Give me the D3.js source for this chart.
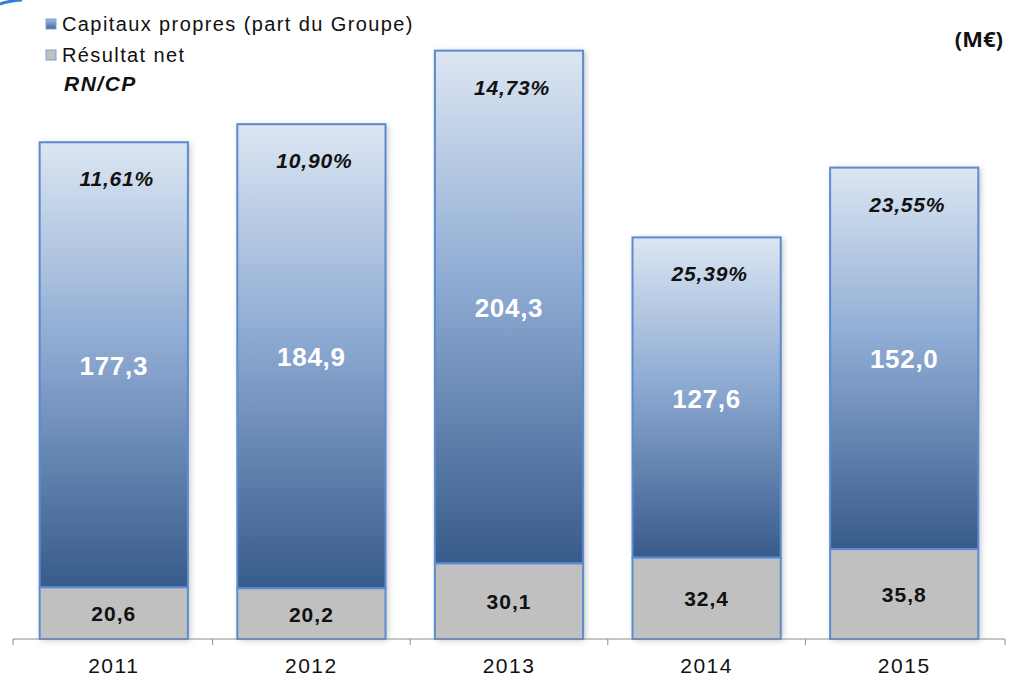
<!DOCTYPE html>
<html>
<head>
<meta charset="utf-8">
<style>
  body { margin: 0; background: #fff; font-family: "Liberation Sans", Arial, sans-serif; }
</style>
<script src="https://cdn.jsdelivr.net/npm/d3@7"></script>
</head>
<body>
<script>
// data
var years = ["2011", "2012", "2013", "2014", "2015"];
var capitaux = [177.3, 184.9, 204.3, 127.6, 152.0];
var resultat = [20.6, 20.2, 30.1, 32.4, 35.8];
var ratios = ["11,61%", "10,90%", "14,73%", "25,39%", "23,55%"];
var legendLabels = ["Capitaux propres (part du Groupe)", "Résultat net"];

var W = 1009, H = 676;
var fmt = function(v) { return v.toFixed(1).replace(".", ","); };

var svg = d3.select("body").append("svg")
    .attr("width", W)
    .attr("height", H);

var defs = svg.append("defs");
var grad = defs.append("linearGradient")
    .attr("id", "blueGrad")
    .attr("x1", 0).attr("y1", 0).attr("x2", 0).attr("y2", 1);
grad.append("stop").attr("offset", "0%").attr("stop-color", "#dce6f2");
grad.append("stop").attr("offset", "45%").attr("stop-color", "#8eabd3");
grad.append("stop").attr("offset", "100%").attr("stop-color", "#375b8c");

var shadow = defs.append("filter").attr("id", "shadow")
    .attr("x", "-10%").attr("y", "-10%").attr("width", "120%").attr("height", "120%");
shadow.append("feDropShadow")
    .attr("dx", 2).attr("dy", 1).attr("stdDeviation", 3)
    .attr("flood-color", "#000").attr("flood-opacity", 0.25);

var legGrad = defs.append("linearGradient")
    .attr("id", "legGrad")
    .attr("x1", 0).attr("y1", 0).attr("x2", 0).attr("y2", 1);
legGrad.append("stop").attr("offset", "0%").attr("stop-color", "#a9c0e0");
legGrad.append("stop").attr("offset", "100%").attr("stop-color", "#3d64a0");

// scales
var x = d3.scaleBand()
    .domain(years)
    .range([13, 1005])
    .paddingInner(0.25)
    .paddingOuter(0.135);

var y = d3.scaleLinear()
    .domain([0, 250])
    .range([639, 639 - 250 * 2.51]);

var rows = years.map(function(yr, i) {
  return { year: yr, cp: capitaux[i], rn: resultat[i], ratio: ratios[i] };
});

// corner swoosh
svg.append("path")
    .attr("d", "M0,4 Q8,1 22,0")
    .attr("stroke", "#2f7fd8")
    .attr("stroke-width", 3)
    .attr("fill", "none");

// bars
var bars = svg.selectAll(".bar")
    .data(rows).enter()
    .append("g")
    .attr("class", "bar");

bars.append("rect")
    .attr("x", function(d) { return x(d.year); })
    .attr("y", function(d) { return y(d.rn + d.cp); })
    .attr("width", x.bandwidth())
    .attr("height", function(d) { return y(0) - y(d.rn + d.cp); })
    .attr("fill", "#fff")
    .attr("filter", "url(#shadow)");

bars.append("rect")
    .attr("x", function(d) { return x(d.year); })
    .attr("y", function(d) { return y(d.rn + d.cp); })
    .attr("width", x.bandwidth())
    .attr("height", function(d) { return y(d.rn) - y(d.rn + d.cp); })
    .attr("fill", "url(#blueGrad)")
    .attr("stroke", "#5b8bd0")
    .attr("stroke-width", 2);

bars.append("rect")
    .attr("x", function(d) { return x(d.year); })
    .attr("y", function(d) { return y(d.rn); })
    .attr("width", x.bandwidth())
    .attr("height", function(d) { return y(0) - y(d.rn); })
    .attr("fill", "#c0c0c0")
    .attr("stroke", "#5b8bd0")
    .attr("stroke-width", 2);

// labels
bars.append("text")
    .attr("x", function(d) { return x(d.year) + x.bandwidth() / 2; })
    .attr("y", function(d) { return (y(d.rn) + y(d.rn + d.cp)) / 2 + 10; })
    .attr("text-anchor", "middle")
    .attr("fill", "#fff")
    .attr("font-weight", "bold")
    .attr("font-size", "26px")
    .attr("letter-spacing", "0.7px")
    .text(function(d) { return fmt(d.cp); });

bars.append("text")
    .attr("x", function(d) { return x(d.year) + x.bandwidth() / 2; })
    .attr("y", function(d) { return (y(0) + y(d.rn)) / 2 + 8; })
    .attr("text-anchor", "middle")
    .attr("fill", "#111")
    .attr("font-weight", "bold")
    .attr("font-size", "21px")
    .attr("letter-spacing", "1px")
    .text(function(d) { return fmt(d.rn); });

bars.append("text")
    .attr("x", function(d) { return x(d.year) + x.bandwidth() / 2 + 3; })
    .attr("y", function(d) { return y(d.rn + d.cp) + 44; })
    .attr("text-anchor", "middle")
    .attr("fill", "#111")
    .attr("font-weight", "bold")
    .attr("font-style", "italic")
    .attr("font-size", "21px")
    .attr("letter-spacing", "0.8px")
    .text(function(d) { return d.ratio; });

// x axis: baseline with ticks at band boundaries
var axis = svg.append("g");
axis.append("line")
    .attr("x1", 13).attr("x2", 1005)
    .attr("y1", y(0)).attr("y2", y(0))
    .attr("stroke", "#8c8c8c").attr("stroke-width", 1);
var bounds = years.map(function(yr) { return x(yr) - x.step() * x.paddingInner() / 2; });
bounds.push(1005);
bounds[0] = 13;
axis.selectAll(".tk")
    .data(bounds).enter()
    .append("line")
    .attr("x1", function(d) { return d; }).attr("x2", function(d) { return d; })
    .attr("y1", y(0)).attr("y2", y(0) + 6)
    .attr("stroke", "#8c8c8c");
axis.selectAll(".yl")
    .data(years).enter()
    .append("text")
    .attr("x", function(d) { return x(d) + x.bandwidth() / 2; })
    .attr("y", y(0) + 34)
    .attr("text-anchor", "middle")
    .attr("font-size", "21px")
    .attr("letter-spacing", "1.5px")
    .attr("fill", "#111")
    .text(function(d) { return d; });

// legend
var legFills = ["url(#legGrad)", "#c0c0c0"];
var leg = svg.selectAll(".leg")
    .data(legendLabels).enter()
    .append("g")
    .attr("transform", function(d, i) { return "translate(46," + (19 + i * 31) + ")"; });
leg.append("rect")
    .attr("y", 0)
    .attr("width", 10).attr("height", 10)
    .attr("fill", function(d, i) { return legFills[i]; })
    .attr("stroke", "#7f9fcf").attr("stroke-width", 1);
leg.append("text")
    .attr("x", 16).attr("y", 12)
    .attr("font-size", "20px")
    .attr("letter-spacing", "1.4px")
    .attr("fill", "#111")
    .text(function(d) { return d; });

svg.append("text")
    .attr("x", 64).attr("y", 91)
    .attr("font-size", "21px")
    .attr("font-weight", "bold")
    .attr("font-style", "italic")
    .attr("letter-spacing", "1.5px")
    .attr("fill", "#111")
    .text("RN/CP");

svg.append("text")
    .attr("x", 1003).attr("y", 47)
    .attr("text-anchor", "end")
    .attr("font-family", "'Open Sans', sans-serif")
    .attr("font-size", "22px")
    .attr("font-weight", "bold")
    .attr("fill", "#111")
    .text("(M€)");
</script>
</body>
</html>
